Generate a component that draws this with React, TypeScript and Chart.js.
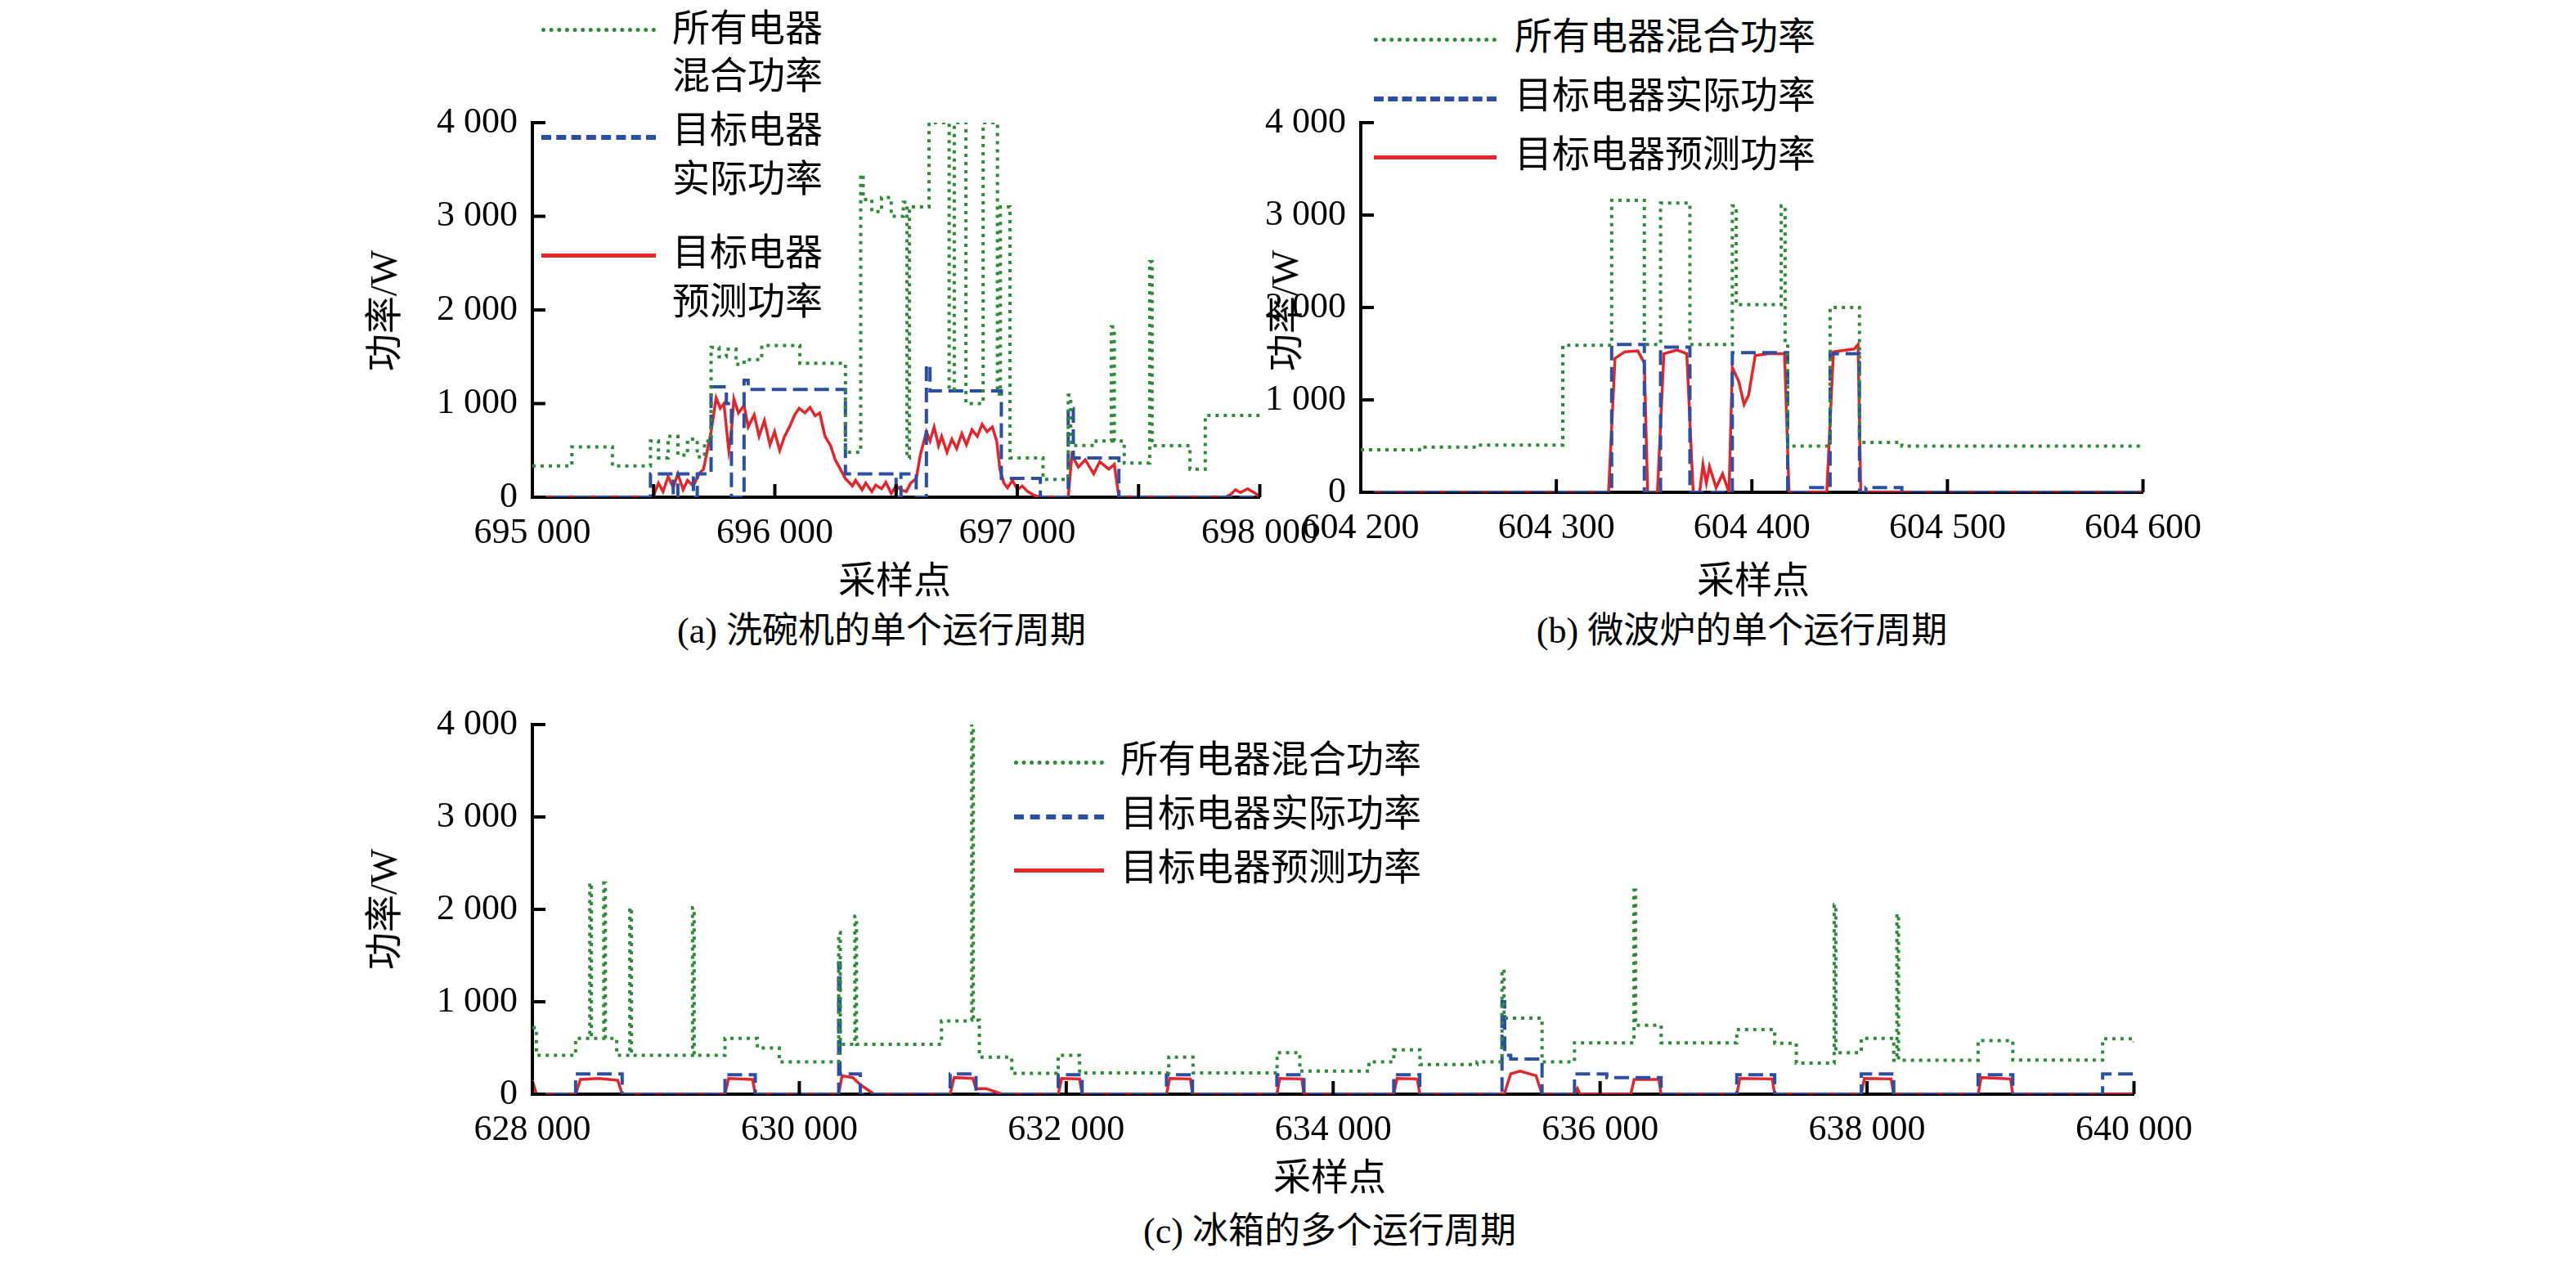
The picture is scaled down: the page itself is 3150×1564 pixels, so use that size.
import React, { useEffect, useRef } from "react";
import { Chart, registerables } from "chart.js";
Chart.register(...registerables);

// ---------- Panel (a) dishwasher ----------
const A_MIX_X = [695000, 695163, 695330, 695487, 695520, 695560, 695600, 695640, 695680, 695710, 695737, 695770, 695800, 695840, 695873, 695946, 696103, 696291, 696354, 696364, 696400, 696440, 696480, 696530, 696545, 696555, 696636, 696719, 696740, 696788, 696859, 696918, 696930, 696970, 697106, 697210, 697220, 697325, 697388, 697400, 697441, 697546, 697556, 697712, 697775, 698000];
const A_MIX_Y = [335, 538, 335, 600, 420, 650, 450, 620, 430, 600, 1600, 1500, 1580, 1420, 1470, 1620, 1430, 480, 3447, 3180, 3050, 3200, 3000, 3150, 420, 3100, 4000, 1150, 4000, 1000, 4000, 1100, 3100, 420, 190, 1090, 553, 600, 1818, 600, 364, 2516, 550, 300, 873, 873];
const A_ACT_X = [695000, 695487, 695581, 695600, 695664, 695680, 695737, 695800, 695821, 695873, 695890, 696291, 696500, 696520, 696583, 696625, 696640, 696934, 697095, 697210, 697231, 697419, 698000];
const A_ACT_Y = [0, 250, 0, 250, 0, 250, 1180, 1000, 0, 1250, 1150, 250, 0, 250, 0, 1410, 1135, 200, 0, 945, 420, 0, 0];
const A_PRED_X = [695000, 695497, 695520, 695539, 695560, 695581, 695600, 695622, 695640, 695664, 695690, 695706, 695737, 695758, 695775, 695790, 695810, 695821, 695831, 695850, 695873, 695890, 695915, 695935, 695957, 695980, 695999, 696020, 696040, 696060, 696082, 696100, 696124, 696145, 696166, 696185, 696207, 696230, 696249, 696270, 696291, 696320, 696333, 696360, 696375, 696400, 696416, 696440, 696458, 696480, 696500, 696520, 696542, 696560, 696583, 696600, 696625, 696640, 696657, 696675, 696688, 696710, 696730, 696750, 696771, 696790, 696813, 696835, 696855, 696875, 696897, 696915, 696928, 696945, 696960, 696980, 697001, 697020, 697043, 697070, 697095, 697210, 697225, 697252, 697280, 697315, 697340, 697377, 697400, 697419, 697858, 697880, 697900, 697920, 697950, 697983, 698000];
const A_PRED_Y = [0, 0, 150, 60, 220, 100, 250, 80, 180, 120, 260, 300, 700, 1060, 950, 1000, 500, 700, 1050, 900, 980, 750, 880, 650, 820, 560, 700, 500, 650, 750, 880, 950, 900, 960, 870, 900, 650, 550, 400, 300, 200, 120, 180, 80, 150, 60, 130, 90, 160, 40, 120, 80, 60, 150, 200, 450, 700, 600, 750, 550, 650, 480, 620, 520, 680, 560, 720, 650, 780, 700, 750, 600, 300, 150, 100, 180, 80, 120, 60, 20, 0, 0, 450, 320, 400, 250, 380, 300, 350, 0, 0, 30, 80, 50, 90, 40, 0];

// ---------- Panel (b) microwave ----------
const B_MIX_X = [604200, 604230, 604260, 604303.3, 604328.3, 604345, 604353.3, 604368.3, 604390, 604392, 604415, 604417, 604418.3, 604440, 604455, 604476.7, 604600];
const B_MIX_Y = [460, 490, 510, 1590, 3160, 1600, 3130, 1600, 3100, 2030, 3100, 1600, 500, 2000, 540, 500, 500];
const B_ACT_X = [604200, 604328.3, 604345, 604353.3, 604368.3, 604390, 604418.3, 604430, 604440, 604455, 604458.3, 604476.7, 604600];
const B_ACT_Y = [0, 1600, 0, 1570, 0, 1510, 0, 50, 1500, 0, 50, 0, 0];
const B_PRED_X = [604200, 604326.7, 604330, 604335, 604341.7, 604345, 604346.7, 604351.7, 604355, 604361.7, 604366.7, 604370, 604373.3, 604375, 604376.7, 604378.3, 604381.7, 604385, 604388.3, 604390, 604393.3, 604396, 604398.3, 604401.7, 604408.3, 604416.7, 604419, 604438.3, 604441.7, 604448.3, 604452.3, 604454.3, 604455.7, 604600];
const B_PRED_Y = [0, 0, 1450, 1520, 1530, 1400, 0, 0, 1500, 1540, 1500, 0, 0, 300, 100, 280, 50, 200, 0, 1350, 1200, 950, 1050, 1480, 1500, 1500, 0, 0, 1520, 1540, 1550, 1600, 0, 0];

// ---------- Panel (c) fridge ----------
const C_MIX_X = [628000, 628030, 628324, 628430, 628442, 628535, 628547, 628632, 628730, 628742, 629200, 629212, 629443, 629686, 629850, 630254, 630295, 630307, 630416, 630428, 631065, 631268, 631292, 631304, 631349, 631592, 631940, 632100, 632768, 632950, 633580, 633750, 634268, 634454, 634650, 635078, 635265, 635280, 635321, 635565, 635808, 636254, 636266, 636457, 637024, 637308, 637470, 637754, 637766, 637957, 638200, 638224, 638236, 638832, 639092, 639765, 640000];
const C_MIX_Y = [720, 421, 604, 2286, 604, 2286, 604, 421, 2018, 421, 2018, 421, 604, 500, 350, 350, 1750, 540, 1924, 540, 792, 800, 4000, 800, 400, 226, 420, 230, 400, 230, 450, 250, 350, 480, 320, 350, 1350, 824, 824, 350, 556, 2207, 745, 556, 700, 550, 336, 2050, 450, 604, 368, 1950, 368, 580, 370, 600, 560];
const C_ACT_X = [628000, 628324, 628673, 629443, 629670, 630295, 630305, 630457, 631130, 631324, 631940, 632119, 632751, 632946, 633578, 633781, 634454, 634649, 635265, 635285, 635330, 635565, 635808, 636050, 636457, 637024, 637308, 637957, 638200, 638832, 639092, 639765, 640000];
const C_ACT_Y = [0, 220, 0, 210, 0, 1420, 220, 0, 220, 0, 210, 0, 210, 0, 210, 0, 210, 0, 1000, 420, 380, 0, 220, 180, 0, 210, 0, 220, 0, 210, 0, 220, 180];
const C_PRED_X = [628000, 628030, 628324, 628360, 628500, 628640, 628673, 629443, 629470, 629650, 629670, 630295, 630320, 630400, 630460, 630520, 630560, 631130, 631160, 631300, 631324, 631400, 631480, 631520, 631940, 631965, 632100, 632119, 632751, 632775, 632930, 632946, 633578, 633600, 633765, 633781, 634454, 634478, 634630, 634649, 635281, 635330, 635400, 635520, 635565, 635808, 635830, 635850, 636230, 636255, 636440, 636457, 637024, 637048, 637290, 637308, 637957, 637980, 638180, 638200, 638832, 638855, 639075, 639092, 640000];
const C_PRED_Y = [150, 0, 0, 160, 170, 150, 0, 0, 170, 160, 0, 0, 200, 180, 100, 40, 0, 0, 180, 170, 60, 60, 20, 0, 0, 170, 165, 0, 0, 170, 165, 0, 0, 170, 165, 0, 0, 170, 165, 0, 0, 220, 250, 200, 0, 0, 60, 0, 0, 160, 160, 0, 0, 170, 165, 0, 0, 170, 165, 0, 0, 180, 165, 0, 0];

const LEGEND_LABELS = ["所有电器混合功率", "目标电器实际功率", "目标电器预测功率"];
const GREEN = "#2f8a3a";
const BLUE = "#2c4fa3";
const RED = "#e3262b";
const FONT = "'Liberation Serif', 'Noto Sans CJK SC', serif";

const fmt = (v: number) => String(Math.round(v)).replace(/\B(?=(\d{3})+(?!\d))/g, " ");
const pts = (xs: number[], ys: number[]) => xs.map((x, i) => ({ x, y: ys[i] }));

const PADL = 230, PADT = 40, PADR = 80, PADB = 110;

const inwardTicks = {
  id: "inwardTicks",
  afterDraw(chart: any) {
    const { ctx, chartArea: a, scales } = chart;
    ctx.save();
    ctx.strokeStyle = "#000";
    ctx.lineWidth = 4;
    scales.x.ticks.forEach((t: any) => {
      const px = scales.x.getPixelForValue(t.value);
      ctx.beginPath(); ctx.moveTo(px, a.bottom); ctx.lineTo(px, a.bottom - 16); ctx.stroke();
    });
    scales.y.ticks.forEach((t: any) => {
      const py = scales.y.getPixelForValue(t.value);
      ctx.beginPath(); ctx.moveTo(a.left, py); ctx.lineTo(a.left + 16, py); ctx.stroke();
    });
    ctx.restore();
  },
};

type PanelProps = {
  left: number; top: number; w: number; h: number;
  xmin: number; xmax: number; step: number; labelEvery: number;
  mix: { x: number; y: number }[]; act: { x: number; y: number }[]; pred: { x: number; y: number }[];
};

function Panel(p: PanelProps) {
  const ref = useRef<HTMLCanvasElement | null>(null);
  useEffect(() => {
    const chart = new Chart(ref.current as HTMLCanvasElement, {
      type: "line",
      data: {
        datasets: [
          { data: p.mix, borderColor: GREEN, borderWidth: 4, borderDash: [4, 6], stepped: true, pointRadius: 0 },
          { data: p.act, borderColor: BLUE, borderWidth: 4, borderDash: [18, 8], stepped: true, pointRadius: 0 },
          { data: p.pred, borderColor: RED, borderWidth: 3.5, pointRadius: 0, tension: 0 },
        ],
      },
      options: {
        animation: false,
        responsive: false,
        layout: { padding: { top: PADT, right: PADR, left: 0, bottom: 0 } },
        plugins: { legend: { display: false }, tooltip: { enabled: false } },
        scales: {
          x: {
            type: "linear", min: p.xmin, max: p.xmax,
            afterFit: (s: any) => { s.height = PADB; },
            grid: { display: false },
            border: { display: true, color: "#000", width: 4 },
            ticks: {
              stepSize: p.step, autoSkip: false, maxRotation: 0, padding: 10,
              color: "#000", font: { family: FONT, size: 44 },
              callback: (v: any) => (Math.round((v - p.xmin) / p.step) % p.labelEvery === 0 ? fmt(v) : ""),
            },
          },
          y: {
            min: 0, max: 4000,
            afterFit: (s: any) => { s.width = PADL; },
            grid: { display: false },
            border: { display: true, color: "#000", width: 4 },
            ticks: { stepSize: 1000, padding: 10, color: "#000", font: { family: FONT, size: 44 }, callback: (v: any) => fmt(v) },
          },
        },
      },
      plugins: [inwardTicks],
    });
    return () => chart.destroy();
  }, []);
  return (
    <canvas
      ref={ref}
      width={p.w + PADL + PADR}
      height={p.h + PADT + PADB}
      style={{ position: "absolute", left: p.left - PADL, top: p.top - PADT, width: p.w + PADL + PADR, height: p.h + PADT + PADB }}
    />
  );
}

const txt = (s: string, x: number, y: number, size: number, extra: any = {}) => (
  <div style={{ position: "absolute", left: x, top: y, fontFamily: FONT, fontSize: size, lineHeight: 1, color: "#000", whiteSpace: "nowrap", ...extra }}>{s}</div>
);

function Sample({ kind, x, y, w }: { kind: number; x: number; y: number; w: number }) {
  const styles = [
    { borderTop: `5px dotted ${GREEN}` },
    { borderTop: `6px dashed ${BLUE}` },
    { borderTop: `5px solid ${RED}` },
  ];
  return <div style={{ position: "absolute", left: x, top: y, width: w, height: 0, ...styles[kind] }} />;
}

function YTitle({ cx, cy }: { cx: number; cy: number }) {
  return txt("功率/W", cx, cy, 46, { transform: "translate(-50%,-50%) rotate(-90deg)" });
}

export default function App() {
  return (
    <div style={{ position: "absolute", left: 0, top: 0, width: 3150, height: 1564, background: "#fff", overflow: "hidden" }}>
      <Panel left={651} top={150} w={891} h={458} xmin={695000} xmax={698000} step={500} labelEvery={2}
        mix={pts(A_MIX_X, A_MIX_Y)} act={pts(A_ACT_X, A_ACT_Y)} pred={pts(A_PRED_X, A_PRED_Y)} />
      <Panel left={1664} top={150} w={958} h={452} xmin={604200} xmax={604600} step={100} labelEvery={1}
        mix={pts(B_MIX_X, B_MIX_Y)} act={pts(B_ACT_X, B_ACT_Y)} pred={pts(B_PRED_X, B_PRED_Y)} />
      <Panel left={651} top={886} w={1960} h={452} xmin={628000} xmax={640000} step={2000} labelEvery={1}
        mix={pts(C_MIX_X, C_MIX_Y)} act={pts(C_ACT_X, C_ACT_Y)} pred={pts(C_PRED_X, C_PRED_Y)} />

      {/* legend a */}
      <Sample kind={0} x={662} y={34} w={140} />
      {txt("所有电器", 822, 12, 46)}
      {txt("混合功率", 822, 70, 46)}
      <Sample kind={1} x={662} y={165} w={140} />
      {txt("目标电器", 822, 136, 46)}
      {txt("实际功率", 822, 196, 46)}
      <Sample kind={2} x={662} y={310} w={140} />
      {txt("目标电器", 822, 286, 46)}
      {txt("预测功率", 822, 346, 46)}

      {/* legend b */}
      {LEGEND_LABELS.map((l, i) => (
        <React.Fragment key={"b" + i}>
          <Sample kind={i} x={1680} y={46 + i * 72} w={150} />
          {txt(l, 1852, 22 + i * 72, 46)}
        </React.Fragment>
      ))}
      {/* legend c */}
      {LEGEND_LABELS.map((l, i) => (
        <React.Fragment key={"c" + i}>
          <Sample kind={i} x={1240} y={930 + i * 66} w={110} />
          {txt(l, 1370, 906 + i * 66, 46)}
        </React.Fragment>
      ))}

      <YTitle cx={470} cy={380} />
      <YTitle cx={1572} cy={380} />
      <YTitle cx={470} cy={1112} />

      {txt("采样点", 1094, 710, 46, { transform: "translate(-50%,-50%)" })}
      {txt("采样点", 2144, 710, 46, { transform: "translate(-50%,-50%)" })}
      {txt("采样点", 1626, 1440, 46, { transform: "translate(-50%,-50%)" })}

      {txt("(a) 洗碗机的单个运行周期", 1078, 772, 44, { transform: "translate(-50%,-50%)" })}
      {txt("(b) 微波炉的单个运行周期", 2130, 772, 44, { transform: "translate(-50%,-50%)" })}
      {txt("(c) 冰箱的多个运行周期", 1626, 1506, 44, { transform: "translate(-50%,-50%)" })}
    </div>
  );
}
